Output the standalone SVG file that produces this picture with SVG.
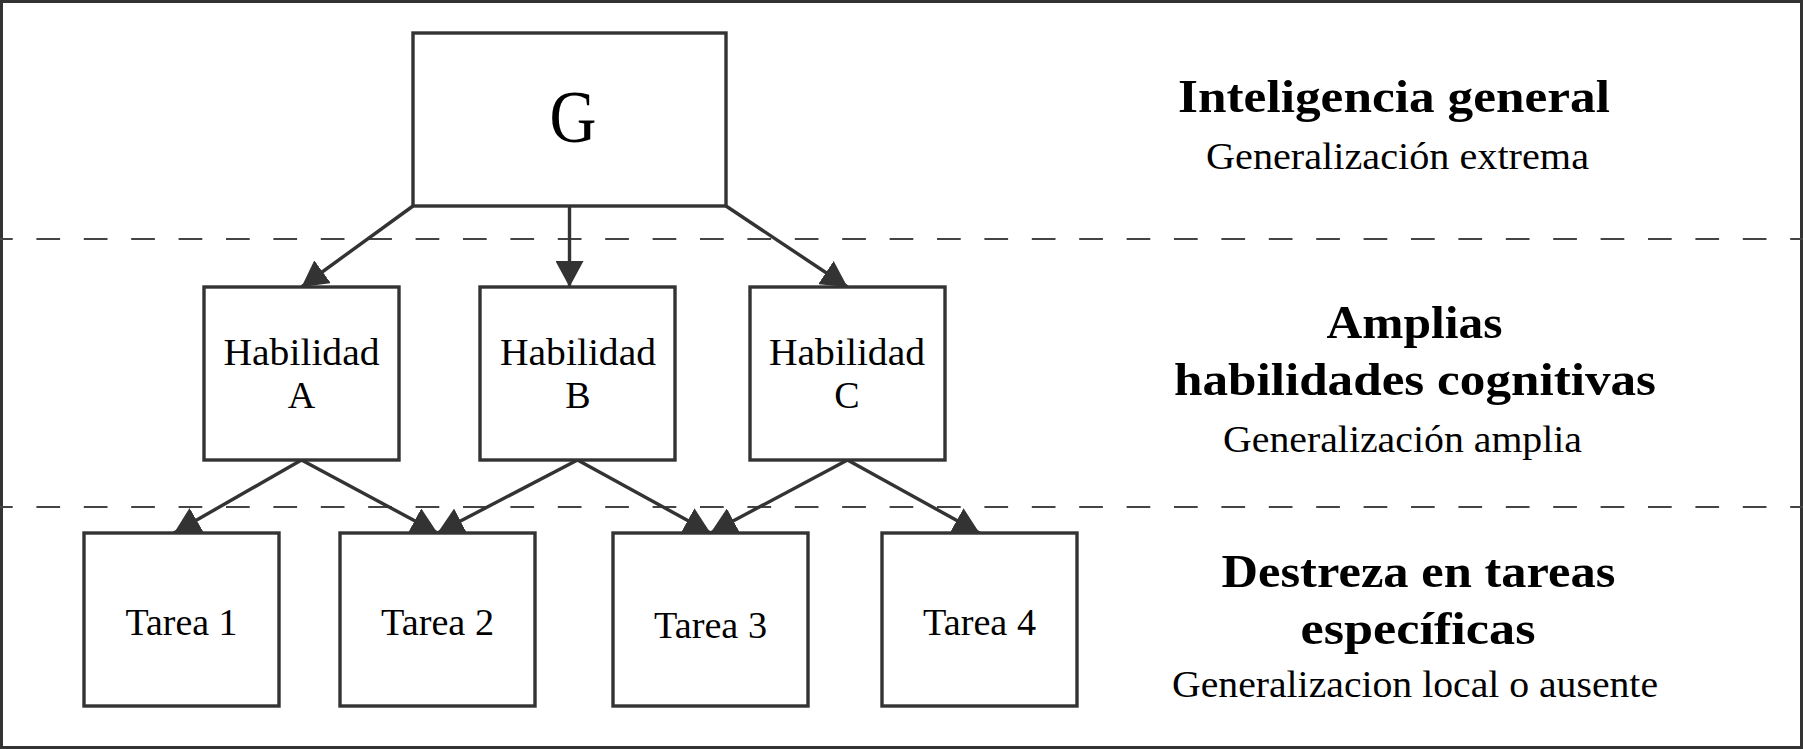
<svg xmlns="http://www.w3.org/2000/svg" width="1803" height="749" viewBox="0 0 1803 749">
<defs>
<marker id="ah" markerUnits="userSpaceOnUse" markerWidth="27" markerHeight="28" refX="26" refY="14" orient="auto">
<path d="M0,0 L26,14 L0,28 Z" fill="#333"/>
</marker>
<style>
.box{fill:#fff;stroke:#333;stroke-width:3.4}
.edge{fill:none;stroke:#333;stroke-width:3.4;marker-end:url(#ah)}
.dash{stroke:#444;stroke-width:2;stroke-dasharray:23.7 23.7;stroke-dashoffset:11}
.t{font-family:"Liberation Serif","Times New Roman",serif;fill:#000;text-anchor:middle}
.n{font-size:38px}
.h{font-size:47px;font-weight:bold}
.s{font-size:37px}
</style>
</defs>
<rect x="0" y="0" width="1803" height="749" fill="#fff"/>
<rect x="1.5" y="1.5" width="1800" height="746" fill="none" stroke="#333" stroke-width="3"/>
<g id="separators">
<line class="dash" x1="0" y1="239" x2="1803" y2="239"/>
<line class="dash" x1="0" y1="507" x2="1803" y2="507"/>
</g>
<g id="connectors">
<path class="edge" d="M413,206 L301.5,287"/>
<path class="edge" d="M569.5,206 L569.5,287"/>
<path class="edge" d="M726,206 L847.5,287"/>
<path class="edge" d="M301.5,460 L174,533"/>
<path class="edge" d="M301.5,460 L437.5,533"/>
<path class="edge" d="M577.5,460 L437.5,533"/>
<path class="edge" d="M577.5,460 L710.5,533"/>
<path class="edge" d="M847.5,460 L710.5,533"/>
<path class="edge" d="M847.5,460 L979.5,533"/>
</g>
<g id="node-G">
<rect class="box" x="413" y="33" width="313" height="173"/>
<text class="t" x="573" y="141.5" font-size="74" textLength="47" lengthAdjust="spacingAndGlyphs">G</text>
</g>
<g id="node-A">
<rect class="box" x="204" y="287" width="195" height="173"/>
<text class="t n" x="301.5" y="365" textLength="156" lengthAdjust="spacingAndGlyphs">Habilidad</text>
<text class="t n" x="301.5" y="407.5">A</text>
</g>
<g id="node-B">
<rect class="box" x="480" y="287" width="195" height="173"/>
<text class="t n" x="578" y="365" textLength="156" lengthAdjust="spacingAndGlyphs">Habilidad</text>
<text class="t n" x="578" y="407.5">B</text>
</g>
<g id="node-C">
<rect class="box" x="750" y="287" width="195" height="173"/>
<text class="t n" x="847" y="365" textLength="156" lengthAdjust="spacingAndGlyphs">Habilidad</text>
<text class="t n" x="847" y="407.5">C</text>
</g>
<g id="node-T1">
<rect class="box" x="84" y="533" width="195" height="173"/>
<text class="t n" x="181.5" y="635" textLength="112" lengthAdjust="spacingAndGlyphs">Tarea 1</text>
</g>
<g id="node-T2">
<rect class="box" x="340" y="533" width="195" height="173"/>
<text class="t n" x="437.5" y="635" textLength="113" lengthAdjust="spacingAndGlyphs">Tarea 2</text>
</g>
<g id="node-T3">
<rect class="box" x="613" y="533" width="195" height="173"/>
<text class="t n" x="710.5" y="637.5" textLength="113" lengthAdjust="spacingAndGlyphs">Tarea 3</text>
</g>
<g id="node-T4">
<rect class="box" x="882" y="533" width="195" height="173"/>
<text class="t n" x="979.5" y="634.5" textLength="113" lengthAdjust="spacingAndGlyphs">Tarea 4</text>
</g>
<g id="labels">
<text class="t h" x="1394" y="112" textLength="432" lengthAdjust="spacingAndGlyphs">Inteligencia general</text>
<text class="t s" x="1397.5" y="169" textLength="383" lengthAdjust="spacingAndGlyphs">Generalización extrema</text>
<text class="t h" x="1414.5" y="338" textLength="176" lengthAdjust="spacingAndGlyphs">Amplias</text>
<text class="t h" x="1415" y="395" textLength="482" lengthAdjust="spacingAndGlyphs">habilidades cognitivas</text>
<text class="t s" x="1402.5" y="451.5" textLength="359" lengthAdjust="spacingAndGlyphs">Generalización amplia</text>
<text class="t h" x="1418.5" y="586.5" textLength="394" lengthAdjust="spacingAndGlyphs">Destreza en tareas</text>
<text class="t h" x="1418" y="644" textLength="235" lengthAdjust="spacingAndGlyphs">específicas</text>
<text class="t s" x="1415" y="696.5" textLength="486" lengthAdjust="spacingAndGlyphs">Generalizacion local o ausente</text>
</g>
</svg>
